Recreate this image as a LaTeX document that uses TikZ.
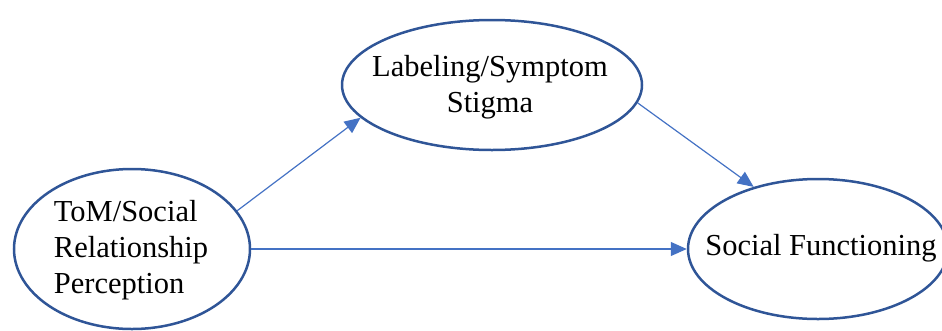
\documentclass[tikz,border=0pt]{standalone}
\usepackage{fontspec}
\setmainfont{Liberation Serif}
\usetikzlibrary{shapes.geometric,arrows.meta}
\definecolor{ovalblue}{HTML}{2F5597}
\definecolor{arrowblue}{HTML}{4472C4}
\begin{document}
\begin{tikzpicture}[x=1pt,y=-1pt,
  oval/.style={ellipse, draw=ovalblue, line width=2.5pt, inner sep=0pt},
  lbl/.style={font=\fontsize{30.5}{36}\selectfont, text=black, inner sep=0pt},
  conn/.style={draw=arrowblue, line width=1.2pt, -{Triangle[length=16pt,width=14pt]}}]
\useasboundingbox (0,0) rectangle (942,330);
\node[oval, minimum width=236pt, minimum height=160pt] (tom) at (132,249) {};
\node[oval, minimum width=300pt, minimum height=130pt] (lab) at (492,85) {};
\node[oval, minimum width=260pt, minimum height=140pt] (soc) at (818,249) {};
\node[lbl, align=left] (tomtext) at (131,250) {ToM/Social\\Relationship\\Perception};
\node[lbl, align=center] (labtext) at (490,87) {Labeling/Symptom\\Stigma};
\node[lbl] (soctext) at (821,248) {Social Functioning};
\draw[conn] (tom.20.7) -- (lab.194.3);
\draw[conn] (lab.-7.3) -- (soc.136);
\draw[conn] (tom.east) -- (soc.west);
\end{tikzpicture}
\end{document}
